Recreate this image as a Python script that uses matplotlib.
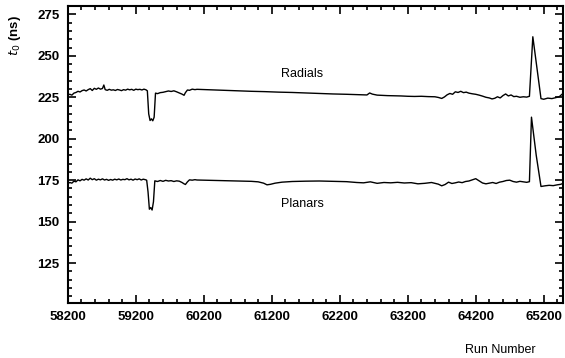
import matplotlib.pyplot as plt
import numpy as np

plt.rcParams['font.family'] = ['Liberation Sans', 'DejaVu Sans']

# radials t0 vs run number
radials_x = [58200, 58230, 58260, 58290, 58320, 58350, 58380, 58410, 58440, 58470,
             58500, 58530, 58560, 58590, 58620, 58650, 58680, 58710, 58730, 58750,
             58780, 58810, 58840, 58870, 58900, 58930, 58960, 58990, 59020, 59050,
             59080, 59110, 59140, 59170, 59200, 59230, 59260, 59290, 59320, 59350,
             59370, 59390, 59410, 59430, 59450, 59470, 59490, 59520, 59560, 59600,
             59640, 59680, 59720, 59760, 59800, 59840, 59880, 59910, 59930, 59960,
             59990, 60030, 60070, 60100, 60300, 60500, 60700, 60900, 61100, 61300,
             61500, 61700, 61900, 62100, 62300, 62500, 62600, 62640, 62680, 62750,
             62900, 63000, 63100, 63200, 63300, 63400, 63500, 63600, 63650, 63700,
             63740, 63780, 63820, 63860, 63900, 63940, 63980, 64020, 64060, 64100,
             64150, 64200, 64250, 64300, 64350, 64400, 64440, 64480, 64520, 64560,
             64600, 64640, 64680, 64720, 64760, 64800, 64850, 64900, 64950, 64990,
             65040, 65100, 65160, 65200, 65260, 65320, 65380, 65430, 65480]
radials_y = [226.5, 226.8, 226.3, 227.5, 227.9, 228.6, 228.2, 229.0, 229.4, 228.8,
             229.6, 230.2, 229.1, 230.4, 229.8, 230.6, 229.9, 230.3, 232.4, 229.6,
             229.2, 229.8, 229.3, 229.5, 229.1, 229.7, 229.4, 229.0, 229.6, 229.3,
             229.9, 229.5, 229.8, 229.2, 229.9, 229.6, 229.8, 229.4, 229.9, 229.5,
             228.9, 215.0, 211.0, 212.0, 210.8, 213.0, 227.5, 227.2, 227.8, 228.0,
             228.4, 228.8, 228.5, 228.9, 228.3, 227.6, 226.9, 226.2, 227.8, 229.4,
             229.2, 229.9, 229.6, 229.8, 229.5, 229.2, 228.9, 228.6, 228.4, 228.1,
             227.9, 227.6, 227.3, 227.0, 226.8, 226.5, 226.4, 227.6, 226.9, 226.3,
             226.0, 225.9, 225.8, 225.6, 225.5, 225.6, 225.4, 225.3, 224.9, 224.3,
             225.2, 226.5, 227.3, 226.8, 228.3, 227.9, 228.6, 227.8, 228.1, 227.5,
             227.1, 226.8, 226.3, 225.7, 225.0, 224.6, 224.0, 224.4, 225.3, 224.6,
             226.0, 227.0, 225.8, 226.4, 225.4, 225.6, 225.0, 225.3, 225.1, 225.6,
             261.5, 243.0, 224.2, 223.8, 224.5, 224.2, 224.8, 225.4, 227.2]

# planars t0 vs run number
planars_x = [58200, 58230, 58260, 58290, 58320, 58350, 58380, 58410, 58440, 58470,
             58500, 58530, 58560, 58590, 58620, 58650, 58680, 58710, 58740, 58770,
             58800, 58830, 58860, 58890, 58920, 58950, 58980, 59010, 59040, 59070,
             59100, 59130, 59160, 59190, 59220, 59250, 59280, 59310, 59340, 59360,
             59380, 59400, 59420, 59440, 59460, 59480, 59520, 59560, 59600, 59640,
             59680, 59720, 59760, 59800, 59840, 59880, 59910, 59930, 59960, 59990,
             60030, 60070, 60100, 60300, 60500, 60700, 60900, 61000, 61080, 61130,
             61180, 61250, 61350, 61500, 61700, 61900, 62100, 62300, 62450, 62550,
             62650, 62750, 62850, 62950, 63050, 63150, 63250, 63350, 63450, 63550,
             63650, 63700, 63750, 63800, 63850, 63900, 63950, 64000, 64050, 64100,
             64150, 64200, 64250, 64300, 64350, 64400, 64450, 64500, 64550, 64600,
             64650, 64700, 64750, 64800, 64850, 64900, 64950, 64990, 65020, 65090,
             65160, 65220, 65280, 65340, 65400, 65450, 65480]
planars_y = [173.0, 173.6, 173.2, 174.4, 174.0, 175.2, 174.6, 175.5, 175.0, 175.8,
             175.1, 176.2, 175.3, 175.9, 175.0, 175.6, 175.2, 175.8, 175.1, 175.5,
             174.9, 175.4, 175.0, 175.6, 175.2, 175.7, 175.1, 175.5, 175.3, 175.9,
             175.2, 175.6, 175.0, 175.7, 175.3, 175.8, 175.1, 175.6, 175.3, 175.0,
             168.0, 157.5, 158.5, 157.0, 162.0, 174.6, 174.2, 174.8, 174.3, 174.9,
             174.5, 174.7, 174.2, 174.6, 174.4, 173.6, 172.8, 172.4, 174.0, 175.2,
             175.0, 175.3, 175.1, 174.9, 174.7, 174.5, 174.3, 174.0, 173.2, 172.2,
             172.5, 173.2, 173.8, 174.2, 174.4, 174.5, 174.3, 174.1, 173.6, 173.4,
             174.0, 173.1, 173.6, 173.4, 173.7, 173.3, 173.5, 172.8, 173.1, 173.6,
             172.6, 171.6, 172.4, 173.8, 173.0, 173.4, 173.9, 173.5, 174.2, 174.5,
             175.2, 175.9, 174.6, 173.3, 172.8, 173.2, 173.6, 173.0, 173.8, 174.2,
             174.8, 175.0, 174.2, 173.8, 174.3, 174.0, 173.7, 174.1, 213.0, 190.0,
             171.2, 171.6, 171.9, 171.7, 172.2, 172.5, 173.0]

x_ticks = [58200, 59200, 60200, 61200, 62200, 63200, 64200, 65200]
y_ticks = [125, 150, 175, 200, 225, 250, 275]

fig = plt.figure(figsize=(5.65, 3.58), dpi=100)
ax = fig.add_axes([0.120, 0.154, 0.876, 0.829])

ax.plot(radials_x, radials_y, color='black', lw=1.0)
ax.plot(planars_x, planars_y, color='black', lw=1.0)

ax.text(61650, 239, 'Radials', fontsize=9, ha='center', va='center')
ax.text(61650, 160.5, 'Planars', fontsize=9, ha='center', va='center')

ax.set_xlim(58200, 65480)
ax.set_ylim(101, 280)
ax.set_xticks(x_ticks)
ax.set_xticks(np.arange(58200, 65481, 200), minor=True)
ax.set_yticks(y_ticks)
ax.set_yticks(np.arange(105, 280, 5), minor=True)
ax.tick_params(which='both', direction='in', top=True, right=True, width=1.2)
ax.tick_params(which='major', length=6, labelsize=9.5, pad=6)
ax.tick_params(which='minor', length=3)
for lab in ax.get_xticklabels() + ax.get_yticklabels():
    lab.set_fontweight('bold')
for sp in ax.spines.values():
    sp.set_linewidth(1.5)

fig.text(0.027, 0.90, '$t_0$ (ns)', rotation=90, fontsize=9.5, fontweight='bold',
         ha='center', va='center')
fig.text(0.885, 0.022, 'Run Number', fontsize=9, ha='center', va='center')

fig.savefig('out.png', dpi=100)
